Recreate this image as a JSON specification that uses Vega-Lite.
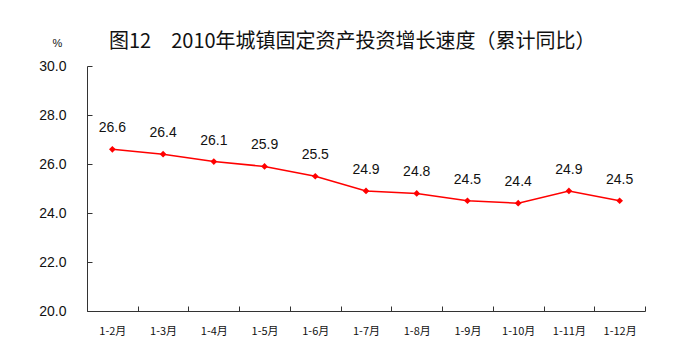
{
  "$schema": "https://vega.github.io/schema/vega-lite/v6.json",
  "autosize": "none",
  "width": 558,
  "height": 245,
  "padding": {"left": 87, "top": 66, "right": 37, "bottom": 43},
  "background": "white",
  "title": {
    "text": "图12　2010年城镇固定资产投资增长速度（累计同比）",
    "font": "Noto Sans CJK SC",
    "fontSize": 20,
    "fontWeight": "normal",
    "color": "#111",
    "anchor": "start",
    "frame": "group",
    "dx": 22,
    "offset": -15
  },
  "config": {"view": {"stroke": null}},
  "data": {
    "values": [
      {"m": "1-2月", "v": 26.6},
      {"m": "1-3月", "v": 26.4},
      {"m": "1-4月", "v": 26.1},
      {"m": "1-5月", "v": 25.9},
      {"m": "1-6月", "v": 25.5},
      {"m": "1-7月", "v": 24.9},
      {"m": "1-8月", "v": 24.8},
      {"m": "1-9月", "v": 24.5},
      {"m": "1-10月", "v": 24.4},
      {"m": "1-11月", "v": 24.9},
      {"m": "1-12月", "v": 24.5}
    ]
  },
  "encoding": {
    "x": {
      "field": "m",
      "type": "nominal",
      "sort": null,
      "scale": {"type": "band", "paddingInner": 0, "paddingOuter": 0},
      "axis": {
        "title": null,
        "labelAngle": 0,
        "labelFont": "Noto Sans CJK SC",
        "labelFontSize": 11,
        "labelColor": "#111",
        "labelPadding": 19,
        "tickBand": "extent",
        "tickSize": -5,
        "tickColor": "#333",
        "domainColor": "#333",
        "grid": false
      }
    },
    "y": {
      "field": "v",
      "type": "quantitative",
      "scale": {"domain": [20, 30], "zero": false, "nice": false},
      "axis": {
        "values": [20, 22, 24, 26, 28, 30],
        "format": ".1f",
        "grid": false,
        "labelFont": "Liberation Sans",
        "labelFontSize": 14,
        "labelColor": "#111",
        "labelPadding": 26,
        "tickSize": -5,
        "tickColor": "#333",
        "domainColor": "#333",
        "title": "%",
        "titleAngle": 0,
        "titleFont": "Liberation Sans",
        "titleFontSize": 11,
        "titleFontWeight": "normal",
        "titleColor": "#111",
        "titleX": -30,
        "titleY": -18
      }
    }
  },
  "layer": [
    {
      "mark": {"type": "line", "color": "#ff0000", "strokeWidth": 1.5,
        "point": {"shape": "diamond", "size": 45, "filled": true, "color": "#ff0000"}}
    },
    {
      "mark": {"type": "text", "dy": -21, "font": "Liberation Sans", "fontSize": 14, "color": "#111"},
      "encoding": {"text": {"field": "v", "type": "quantitative", "format": ".1f"}}
    }
  ]
}
